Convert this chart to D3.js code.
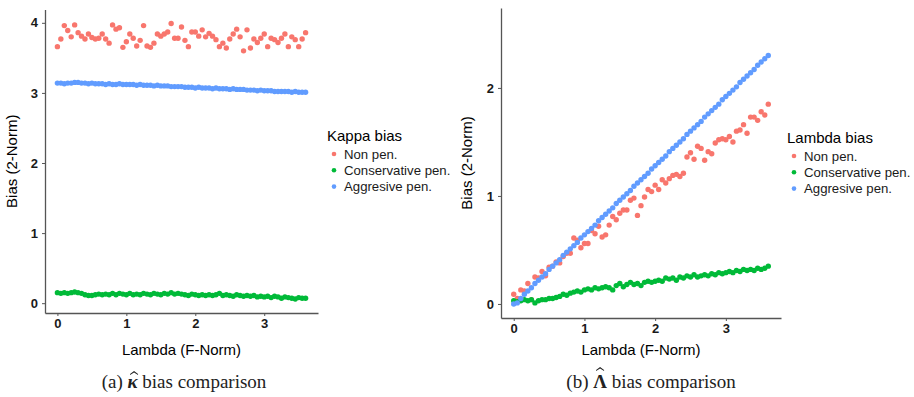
<!DOCTYPE html>
<html>
<head>
<meta charset="utf-8">
<script src="https://cdn.jsdelivr.net/npm/d3@7/dist/d3.min.js"></script>
<style>
  body { margin: 0; background: #fff; }
  svg { display: block; }
  .tick text { font-family: "Liberation Sans", Arial, sans-serif; font-size: 13px; font-weight: bold; fill: #1a1a1a; }
</style>
</head>
<body>
<div id="chart"></div>
<script>
// lambda (F-Norm) grid, shared by both panels
const lambdaNorm = [0, 0.05, 0.1, 0.15, 0.2, 0.25, 0.3, 0.35, 0.4, 0.45, 0.5, 0.55, 0.6, 0.65, 0.7, 0.75,
  0.8, 0.85, 0.9, 0.95, 1, 1.05, 1.1, 1.15, 1.2, 1.25, 1.3, 1.35, 1.4, 1.45, 1.5, 1.55, 1.6, 1.65, 1.7,
  1.75, 1.8, 1.85, 1.9, 1.95, 2, 2.05, 2.1, 2.15, 2.2, 2.25, 2.3, 2.35, 2.4, 2.45, 2.5, 2.55, 2.6, 2.65,
  2.7, 2.75, 2.8, 2.85, 2.9, 2.95, 3, 3.05, 3.1, 3.15, 3.2, 3.25, 3.3, 3.35, 3.4, 3.45, 3.5, 3.55, 3.6];

const seriesNames = ['Non pen.', 'Conservative pen.', 'Aggresive pen.'];
const seriesColors = ['#F8766D', '#00BA38', '#619CFF'];

// (a) kappa bias
const kappaNonPen = [3.66, 3.77, 3.96, 3.89, 3.80, 3.97, 3.86, 3.81, 3.77, 3.84, 3.79, 3.77, 3.78, 3.84,
  3.77, 3.71, 3.97, 3.91, 3.93, 3.65, 3.73, 3.84, 3.78, 3.67, 3.75, 3.96, 3.67, 3.65, 3.71, 3.84, 3.81,
  3.84, 3.87, 3.99, 3.78, 3.78, 3.94, 3.75, 3.66, 3.87, 3.87, 3.81, 3.90, 3.80, 3.85, 3.81, 3.76, 3.66,
  3.71, 3.64, 3.77, 3.84, 3.91, 3.80, 3.60, 3.90, 3.64, 3.77, 3.72, 3.78, 3.84, 3.66, 3.78, 3.76, 3.72,
  3.78, 3.84, 3.66, 3.80, 3.76, 3.66, 3.77, 3.86];
const kappaConservative = [0.15, 0.14, 0.15, 0.14, 0.15, 0.16, 0.15, 0.14, 0.12, 0.11, 0.11, 0.12, 0.13,
  0.12, 0.13, 0.12, 0.14, 0.12, 0.14, 0.13, 0.12, 0.14, 0.12, 0.13, 0.12, 0.14, 0.13, 0.12, 0.14, 0.13,
  0.12, 0.14, 0.13, 0.15, 0.13, 0.14, 0.13, 0.12, 0.11, 0.13, 0.12, 0.11, 0.12, 0.11, 0.12, 0.11, 0.12,
  0.14, 0.11, 0.12, 0.11, 0.10, 0.12, 0.11, 0.10, 0.11, 0.10, 0.11, 0.09, 0.10, 0.09, 0.10, 0.08, 0.10,
  0.09, 0.07, 0.09, 0.08, 0.07, 0.06, 0.08, 0.07, 0.07];
const kappaAggressive = [3.14, 3.14, 3.13, 3.14, 3.14, 3.15, 3.15, 3.14, 3.14, 3.13, 3.14, 3.13, 3.13,
  3.13, 3.12, 3.13, 3.12, 3.12, 3.13, 3.12, 3.12, 3.12, 3.12, 3.11, 3.12, 3.11, 3.11, 3.11, 3.10, 3.11,
  3.10, 3.10, 3.10, 3.09, 3.09, 3.09, 3.09, 3.08, 3.08, 3.08, 3.07, 3.08, 3.07, 3.07, 3.07, 3.06, 3.07,
  3.06, 3.06, 3.06, 3.05, 3.06, 3.05, 3.05, 3.05, 3.04, 3.04, 3.04, 3.03, 3.04, 3.03, 3.03, 3.03, 3.02,
  3.02, 3.02, 3.02, 3.02, 3.01, 3.02, 3.01, 3.01, 3.01];

// (b) lambda bias
const lambdaNonPen = [0.09, 0.05, 0.13, 0.12, 0.19, 0.04, 0.25, 0.24, 0.30, 0.26, 0.34, 0.35, 0.39, 0.38,
  0.44, 0.47, 0.47, 0.61, 0.59, 0.52, 0.56, 0.56, 0.68, 0.65, 0.72, 0.62, 0.64, 0.73, 0.81, 0.78, 0.84,
  0.87, 0.87, 0.96, 0.98, 0.82, 0.91, 0.99, 1.06, 1.04, 1.10, 1.06, 1.15, 1.12, 1.16, 1.19, 1.20, 1.18,
  1.21, 1.36, 1.40, 1.34, 1.46, 1.44, 1.33, 1.41, 1.39, 1.49, 1.52, 1.53, 1.52, 1.55, 1.50, 1.60, 1.61,
  1.66, 1.58, 1.73, 1.73, 1.70, 1.78, 1.75, 1.85];
const lambdaConservative = [0.03, 0.02, 0.03, 0.04, 0.03, 0.04, 0.01, 0.03, 0.04, 0.04, 0.05, 0.05, 0.06,
  0.07, 0.09, 0.08, 0.10, 0.11, 0.12, 0.11, 0.13, 0.14, 0.13, 0.15, 0.14, 0.15, 0.16, 0.15, 0.13, 0.17,
  0.19, 0.16, 0.18, 0.20, 0.18, 0.19, 0.17, 0.20, 0.21, 0.20, 0.21, 0.22, 0.21, 0.24, 0.23, 0.24, 0.22,
  0.25, 0.24, 0.26, 0.25, 0.27, 0.25, 0.26, 0.27, 0.26, 0.28, 0.27, 0.29, 0.28, 0.29, 0.30, 0.29, 0.31,
  0.30, 0.32, 0.31, 0.32, 0.31, 0.33, 0.32, 0.33, 0.35];
const lambdaAggressive = [0.00, 0.01, 0.05, 0.09, 0.12, 0.15, 0.19, 0.22, 0.25, 0.28, 0.32, 0.35, 0.38,
  0.41, 0.45, 0.48, 0.51, 0.54, 0.57, 0.61, 0.64, 0.67, 0.70, 0.73, 0.77, 0.80, 0.83, 0.86, 0.89, 0.93,
  0.96, 0.99, 1.02, 1.05, 1.09, 1.12, 1.15, 1.18, 1.21, 1.25, 1.28, 1.31, 1.34, 1.37, 1.41, 1.44, 1.47,
  1.50, 1.53, 1.57, 1.60, 1.63, 1.66, 1.69, 1.73, 1.76, 1.79, 1.82, 1.85, 1.89, 1.92, 1.95, 1.98, 2.01,
  2.05, 2.08, 2.11, 2.14, 2.17, 2.21, 2.24, 2.27, 2.30];

const xTicks = [0, 1, 2, 3];
const kappaYTicks = [0, 1, 2, 3, 4];
const lambdaYTicks = [0, 1, 2];

const sansFont = '"Liberation Sans", Arial, sans-serif';
const serifFont = '"Liberation Serif", "Times New Roman", serif';

const svg = d3.select('#chart').append('svg')
  .attr('width', 914)
  .attr('height', 397);

function drawPanel(p) {
  const x = d3.scaleLinear().domain([-0.18, 3.78]).range([p.left, p.right]);
  const y = d3.scaleLinear().domain(p.yDomain).range([p.bottom, p.top]);

  // axes
  const gx = svg.append('g')
    .attr('transform', `translate(0, ${p.bottom})`)
    .call(d3.axisBottom(x).tickValues(xTicks).tickSize(3).tickSizeOuter(0).tickPadding(3).tickFormat(d3.format('d')));
  const gy = svg.append('g')
    .attr('transform', `translate(${p.left}, 0)`)
    .call(d3.axisLeft(y).tickValues(p.yTicks).tickSize(3).tickSizeOuter(0).tickPadding(4).tickFormat(d3.format('d')));
  [gx, gy].forEach(g => {
    g.select('.domain').attr('stroke', '#555').attr('stroke-width', 1.3);
    g.selectAll('.tick line').attr('stroke', '#555');
  });

  // points
  p.series.forEach((vals, k) => {
    svg.append('g').selectAll('circle')
      .data(vals)
      .enter()
      .append('circle')
      .attr('cx', (d, i) => x(lambdaNorm[i]))
      .attr('cy', d => y(d))
      .attr('r', 2.7)
      .attr('fill', seriesColors[k]);
  });

  // axis titles
  svg.append('text')
    .attr('x', (p.left + p.right) / 2)
    .attr('y', 355)
    .attr('text-anchor', 'middle')
    .attr('font-family', sansFont)
    .attr('font-size', '15px')
    .attr('fill', '#000')
    .text('Lambda (F-Norm)');
  svg.append('text')
    .attr('transform', `translate(${p.yTitleX}, ${(p.top + p.bottom) / 2}) rotate(-90)`)
    .attr('text-anchor', 'middle')
    .attr('font-family', sansFont)
    .attr('font-size', '15px')
    .attr('fill', '#000')
    .text('Bias (2-Norm)');

  // legend
  const lg = svg.append('g').attr('transform', `translate(${p.legendX}, ${p.legendY})`);
  lg.append('text')
    .attr('x', 0)
    .attr('y', 0)
    .attr('font-family', sansFont)
    .attr('font-size', '15px')
    .attr('fill', '#000')
    .text(p.legendTitle);
  seriesNames.forEach((name, k) => {
    lg.append('circle')
      .attr('cx', 7)
      .attr('cy', 13 + k * 16.3)
      .attr('r', 2.3)
      .attr('fill', seriesColors[k]);
    lg.append('text')
      .attr('x', 17)
      .attr('y', 17.5 + k * 16.3)
      .attr('font-family', sansFont)
      .attr('font-size', '13.2px')
      .attr('fill', '#1a1a1a')
      .text(name);
  });

  // caption; the hat over the symbol is a small drawn chevron
  const cap = svg.append('text')
    .attr('x', p.captionX)
    .attr('y', 388)
    .attr('text-anchor', 'middle')
    .attr('font-family', serifFont)
    .attr('font-size', '19px')
    .attr('fill', '#222');
  const tag = p.captionTag + ' ';
  cap.append('tspan').text(tag);
  cap.append('tspan').attr('font-weight', 'bold').attr('font-style', p.symbolItalic ? 'italic' : 'normal').text(p.symbol);
  cap.append('tspan').text(' bias comparison');
  const ext = cap.node().getExtentOfChar(tag.length);
  const hx = ext.x + ext.width / 2 + (p.symbolItalic ? 1.5 : 0);
  const hy = p.hatY;
  svg.append('path')
    .attr('d', `M${hx - 4},${hy + 3} L${hx},${hy} L${hx + 4},${hy + 3} L${hx + 4},${hy + 4} L${hx},${hy + 1.6} L${hx - 4},${hy + 4} Z`)
    .attr('fill', '#222');
}

drawPanel({
  left: 45, right: 318, top: 9.5, bottom: 313,
  yDomain: [-0.14, 4.19], yTicks: kappaYTicks, yTitleX: 17,
  series: [kappaNonPen, kappaConservative, kappaAggressive],
  legendTitle: 'Kappa bias', legendX: 327, legendY: 141,
  captionX: 184, captionTag: '(a)', symbol: '\u03BA', symbolItalic: true, hatY: 371
});

drawPanel({
  left: 501, right: 781, top: 8, bottom: 318,
  yDomain: [-0.13, 2.74], yTicks: lambdaYTicks, yTitleX: 472,
  series: [lambdaNonPen, lambdaConservative, lambdaAggressive],
  legendTitle: 'Lambda bias', legendX: 787, legendY: 143,
  captionX: 651, captionTag: '(b)', symbol: '\u039B', symbolItalic: false, hatY: 367
});
</script>
</body>
</html>
